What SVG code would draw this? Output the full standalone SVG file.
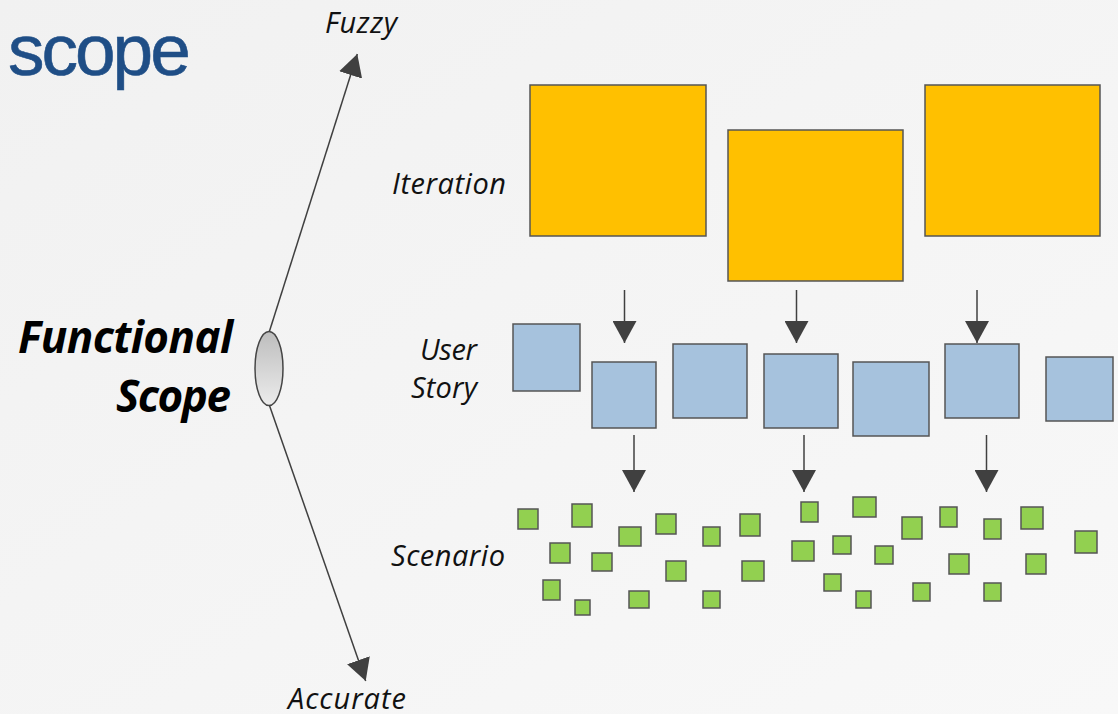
<svg xmlns="http://www.w3.org/2000/svg" width="1118" height="714" viewBox="0 0 1118 714">
  <defs>
    <linearGradient id="bg" x1="0" y1="0" x2="1" y2="1">
      <stop offset="0" stop-color="#f1f1f1"/>
      <stop offset="1" stop-color="#f8f8f8"/>
    </linearGradient>
    <linearGradient id="lens" x1="0" y1="0" x2="0" y2="1">
      <stop offset="0" stop-color="#bdbdbd"/>
      <stop offset="1" stop-color="#ececec"/>
    </linearGradient>
    <marker id="head" markerUnits="userSpaceOnUse" viewBox="0 0 22 24" markerWidth="22" markerHeight="24" refX="22" refY="12" orient="auto">
      <path d="M0,0 L22,12 L0,24 z" fill="#404040"/>
    </marker>
  </defs>
  <style>
    .lbl { font-family: "Open Sans", "DejaVu Sans", sans-serif; font-style: italic; font-size: 29px; fill: #111; }
    .big { font-family: "Open Sans", "DejaVu Sans", sans-serif; font-style: italic; font-weight: bold; font-size: 44px; fill: #000; }
    .conn { stroke: #404040; stroke-width: 1.5; fill: none; marker-end: url(#head); }
    .iter { fill: #ffc000; stroke: #555; stroke-width: 1.5; }
    .story { fill: #a6c2dd; stroke: #555; stroke-width: 1.5; }
    .scen { fill: #92d050; stroke: #555; stroke-width: 1.5; }
  </style>

  <rect width="1118" height="714" fill="url(#bg)"/>

  <!-- title -->
  <text x="8" y="75" font-family="'Liberation Sans', Arial, sans-serif" font-size="73" letter-spacing="-3" fill="#1f4e86" stroke="#1f4e86" stroke-width="0.6">scope</text>

  <!-- axis labels -->
  <g id="axis-labels">
    <text class="lbl" x="325" y="33" textLength="72">Fuzzy</text>
    <text class="lbl" x="288" y="709" textLength="118">Accurate</text>
    <text class="big" x="233" y="353" text-anchor="end" textLength="215">Functional</text>
    <text class="big" x="231" y="412" text-anchor="end" textLength="115">Scope</text>
  </g>

  <!-- connectors -->
  <g id="connectors">
    <line class="conn" x1="269.3" y1="331.7" x2="357.3" y2="54"/>
    <line class="conn" x1="269.3" y1="405" x2="365.7" y2="681"/>
    <line class="conn" x1="624.5" y1="290" x2="624.5" y2="343"/>
    <line class="conn" x1="796.5" y1="290" x2="796.5" y2="343"/>
    <line class="conn" x1="977" y1="290" x2="977" y2="343"/>
    <line class="conn" x1="634" y1="435" x2="634" y2="492"/>
    <line class="conn" x1="804" y1="435" x2="804" y2="492"/>
    <line class="conn" x1="986.5" y1="435" x2="986.5" y2="492"/>
  </g>

  <!-- lens on the axis -->
  <g id="lens-node">
    <ellipse cx="269" cy="368.5" rx="14" ry="37" fill="url(#lens)" stroke="#454545" stroke-width="1.5"/>
  </g>

  <!-- level labels -->
  <g id="level-labels">
    <text class="lbl" x="392" y="194" textLength="114">Iteration</text>
    <text class="lbl" x="477" y="360" text-anchor="end" textLength="57">User</text>
    <text class="lbl" x="477" y="398" text-anchor="end" textLength="66">Story</text>
    <text class="lbl" x="391" y="566" textLength="114">Scenario</text>
  </g>

  <!-- iterations -->
  <g id="iterations">
    <rect id="iteration-1" class="iter" x="530" y="85" width="176" height="151"/>
    <rect id="iteration-2" class="iter" x="728" y="130" width="175" height="151"/>
    <rect id="iteration-3" class="iter" x="925" y="85" width="175" height="151"/>
  </g>

  <!-- user stories -->
  <g id="stories">
    <rect id="story-1" class="story" x="513" y="324" width="67" height="67"/>
    <rect id="story-2" class="story" x="592" y="362" width="64" height="66"/>
    <rect id="story-3" class="story" x="673" y="344" width="74" height="74"/>
    <rect id="story-4" class="story" x="764" y="354" width="74" height="74"/>
    <rect id="story-5" class="story" x="853" y="362" width="76" height="74"/>
    <rect id="story-6" class="story" x="945" y="344" width="74" height="74"/>
    <rect id="story-7" class="story" x="1046" y="357" width="67" height="64"/>
  </g>

  <!-- scenarios -->
  <g id="scenarios">
    <rect class="scen" x="518" y="509" width="20" height="20"/>
    <rect class="scen" x="572" y="504" width="20" height="23"/>
    <rect class="scen" x="619" y="527" width="22" height="19"/>
    <rect class="scen" x="656" y="514" width="20" height="20"/>
    <rect class="scen" x="703" y="527" width="17" height="19"/>
    <rect class="scen" x="740" y="514" width="20" height="22"/>
    <rect class="scen" x="550" y="543" width="20" height="20"/>
    <rect class="scen" x="592" y="553" width="20" height="18"/>
    <rect class="scen" x="666" y="561" width="20" height="20"/>
    <rect class="scen" x="742" y="561" width="22" height="20"/>
    <rect class="scen" x="543" y="580" width="17" height="20"/>
    <rect class="scen" x="575" y="600" width="15" height="15"/>
    <rect class="scen" x="629" y="591" width="20" height="17"/>
    <rect class="scen" x="703" y="591" width="17" height="17"/>
    <rect class="scen" x="801" y="502" width="17" height="20"/>
    <rect class="scen" x="853" y="497" width="23" height="20"/>
    <rect class="scen" x="902" y="517" width="20" height="22"/>
    <rect class="scen" x="940" y="507" width="17" height="20"/>
    <rect class="scen" x="984" y="519" width="17" height="20"/>
    <rect class="scen" x="1021" y="507" width="22" height="22"/>
    <rect class="scen" x="1075" y="531" width="22" height="22"/>
    <rect class="scen" x="792" y="541" width="22" height="20"/>
    <rect class="scen" x="833" y="536" width="18" height="18"/>
    <rect class="scen" x="875" y="546" width="18" height="18"/>
    <rect class="scen" x="949" y="554" width="20" height="20"/>
    <rect class="scen" x="1026" y="554" width="20" height="20"/>
    <rect class="scen" x="824" y="574" width="17" height="17"/>
    <rect class="scen" x="856" y="591" width="15" height="17"/>
    <rect class="scen" x="913" y="583" width="17" height="18"/>
    <rect class="scen" x="984" y="583" width="17" height="18"/>
  </g>
</svg>
